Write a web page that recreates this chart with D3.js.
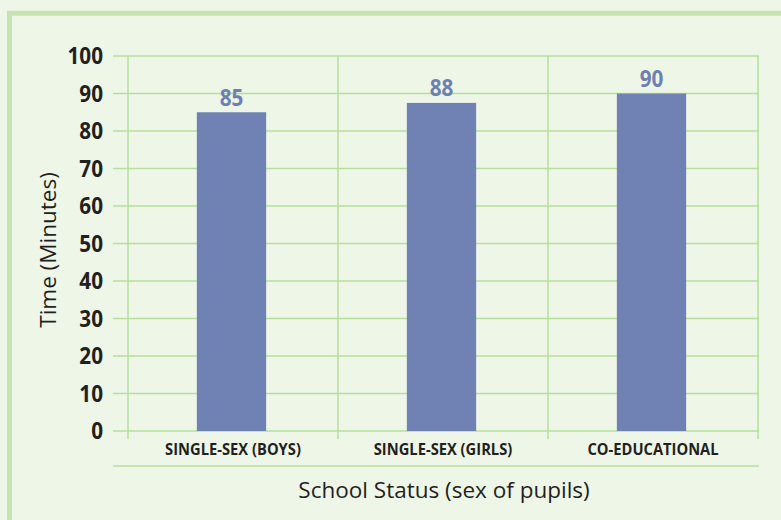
<!DOCTYPE html>
<html>
<head>
<meta charset="utf-8">
<script src="https://cdn.jsdelivr.net/npm/d3@7"></script>
<style>
  html, body { margin: 0; padding: 0; background: #eef6e8; }
  svg { display: block; }
  text { font-family: "Open Sans", "Noto Sans", sans-serif; fill: #231f20; }
</style>
</head>
<body>
<svg id="chart" width="781" height="520"></svg>
<script>
const categories = ["SINGLE-SEX (BOYS)", "SINGLE-SEX (GIRLS)", "CO-EDUCATIONAL"];
const values = [85, 87.5, 90];
const yTicks = [0, 10, 20, 30, 40, 50, 60, 70, 80, 90, 100];
const yTitle = "Time (Minutes)";
const xTitle = "School Status (sex of pupils)";

const svg = d3.select("#chart");
const W = 781, H = 520;

svg.append("rect").attr("width", W).attr("height", H).attr("fill", "#eef6e8");
svg.append("rect")
  .attr("x", 9.5).attr("y", 13.2).attr("width", 900).attr("height", 700)
  .attr("fill", "none").attr("stroke", "#c8e3b2").attr("stroke-width", 5);

const x0 = 128, x1 = 758, gridLeft = 113, gridRight = 759;
const y = d3.scaleLinear().domain([0, 100]).range([431, 56]);
const xBand = d3.scaleBand().domain(categories).range([x0, x1]).padding(0);
const xBar = d3.scaleBand().domain(categories).range([x0, x1]).paddingInner(0.67).paddingOuter(0.335);

const gridColor = "#b7df9c";

// horizontal gridlines
svg.append("g").selectAll("line").data(yTicks).join("line")
  .attr("x1", gridLeft).attr("x2", gridRight)
  .attr("y1", d => y(d)).attr("y2", d => y(d))
  .attr("stroke", gridColor).attr("stroke-width", 1.5);

// vertical separators
const seps = categories.map(c => xBand(c)).concat([xBand(categories[categories.length - 1]) + xBand.bandwidth()]);
svg.append("g").selectAll("line").data(seps).join("line")
  .attr("x1", d => d).attr("x2", d => d)
  .attr("y1", y(100)).attr("y2", y(0) + 8)
  .attr("stroke", gridColor).attr("stroke-width", 1.5);

// bottom line under categories
svg.append("line").attr("x1", gridLeft).attr("x2", gridRight)
  .attr("y1", 466).attr("y2", 466).attr("stroke", gridColor).attr("stroke-width", 1.5);

// y axis labels
const yAxis = d3.axisLeft(y).tickValues(yTicks).tickSize(0).tickPadding(0);
const gy = svg.append("g").attr("transform", "translate(103,0)").call(yAxis);
gy.select(".domain").remove();
gy.selectAll(".tick text")
  .attr("x", 0).attr("dy", "0.34em")
  .attr("transform", "scale(0.9,1)")
  .style("font-family", "'Open Sans', sans-serif")
  .style("font-size", "23px").style("font-weight", "700")
  .attr("fill", "#231f20");

// bars
svg.append("g").selectAll("rect").data(values).join("rect")
  .attr("x", (d, i) => xBar(categories[i]) - 1.5)
  .attr("width", xBar.bandwidth())
  .attr("y", d => y(d))
  .attr("height", d => y(0) - y(d))
  .attr("fill", "#7082b3");

// value labels
svg.append("g").selectAll("text").data(values).join("text")
  .attr("transform", (d, i) => `translate(${xBar(categories[i]) - 1.5 + xBar.bandwidth() / 2},${y(d) - 6.5}) scale(0.9,1)`)
  .attr("text-anchor", "middle")
  .style("font-size", "23px").style("font-weight", "700")
  .style("fill", "#6e80b3")
  .text(d => Math.round(d));

// category labels
svg.append("g").selectAll("text").data(categories).join("text")
  .attr("transform", d => `translate(${xBand(d) + xBand.bandwidth() / 2},455.3) scale(0.95,1)`)
  .attr("text-anchor", "middle")
  .style("font-size", "15.5px").style("font-weight", "700")
  .text(d => d);

// axis titles
svg.append("text")
  .attr("transform", "translate(56,250) rotate(-90)")
  .attr("text-anchor", "middle")
  .style("font-size", "22.5px")
  .text(yTitle);

svg.append("text")
  .attr("x", 444).attr("y", 498)
  .attr("text-anchor", "middle")
  .style("font-size", "22.5px")
  .text(xTitle);
</script>
</body>
</html>
